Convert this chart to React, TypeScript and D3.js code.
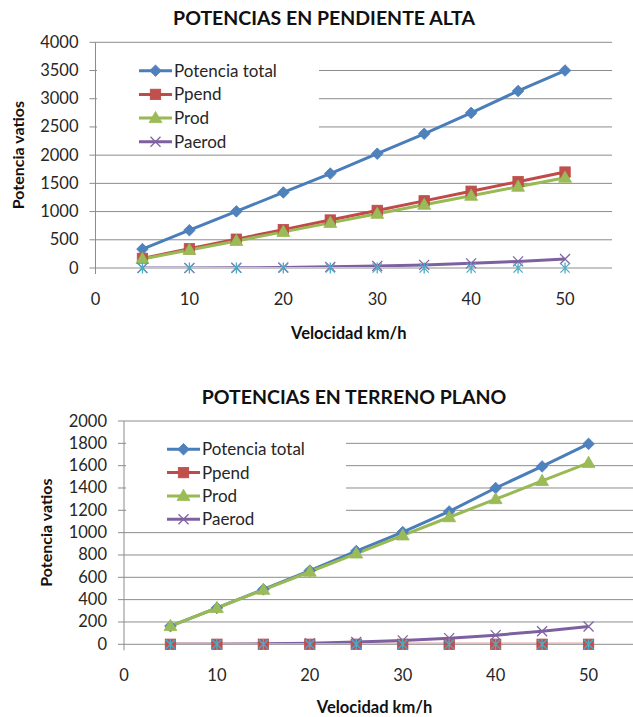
import React from "react";
import * as d3 from "d3";

// Speeds (km/h) shared by both charts
const speeds = [5, 10, 15, 20, 25, 30, 35, 40, 45, 50];

// High slope: power in watts
const altaTotal = [335, 670, 1004, 1339, 1674, 2026, 2379, 2749, 3137, 3500];
const altaPpend = [170, 340, 510, 680, 850, 1020, 1190, 1360, 1530, 1700];
const altaProd = [160, 320, 480, 640, 800, 960, 1120, 1280, 1440, 1600];
const altaPaerod = [0.2, 1.3, 4, 10, 20, 35, 55, 82, 117, 160];
const altaBase = [0, 0, 0, 0, 0, 0, 0, 0, 0, 0];

// Flat terrain: power in watts
const planoTotal = [163, 326, 492, 660, 835, 1005, 1190, 1400, 1593, 1795];
const planoPpend = [0, 0, 0, 0, 0, 0, 0, 0, 0, 0];
const planoProd = [163, 325, 488, 650, 813, 975, 1138, 1300, 1463, 1625];
const planoPaerod = [0.2, 1.3, 4, 10, 20, 35, 55, 82, 117, 160];
const planoBase = [0, 0, 0, 0, 0, 0, 0, 0, 0, 0];

const legendNames = ["Potencia total", "Ppend", "Prod", "Paerod"];
const xTicks = [0, 10, 20, 30, 40, 50];

type Kind = "diamond" | "square" | "triangle" | "x" | "star";
interface Style {
  line: string;
  fill: string;
  kind: Kind;
  showLine: boolean;
}

const styles: Style[] = [
  { line: "#4A7EBB", fill: "#4F81BD", kind: "diamond", showLine: true },
  { line: "#BE4B48", fill: "#C0504D", kind: "square", showLine: true },
  { line: "#98B954", fill: "#9BBB59", kind: "triangle", showLine: true },
  { line: "#7D60A0", fill: "#8064A2", kind: "x", showLine: true },
  { line: "#4BACC6", fill: "#4BACC6", kind: "star", showLine: false },
];

const FONT = "Lato, 'Open Sans', sans-serif";
const GRID = "#8C8C8C";
const TEXT = "#262626";

function Marker({ kind, x, y, s }: { kind: Kind; x: number; y: number; s: Style }) {
  if (kind === "diamond") {
    const r = 5.8;
    return <path d={`M${x},${y - r}L${x + r},${y}L${x},${y + r}L${x - r},${y}Z`} fill={s.fill} stroke={s.line} strokeWidth={0.8} />;
  }
  if (kind === "square") {
    const r = 5.2;
    return <rect x={x - r} y={y - r} width={2 * r} height={2 * r} fill={s.fill} stroke={s.line} strokeWidth={0.8} />;
  }
  if (kind === "triangle") {
    const p = d3.symbol().type(d3.symbolTriangle).size(72)() as string;
    return <path d={p} transform={`translate(${x},${y + 0.8})`} fill={s.fill} stroke={s.line} strokeWidth={0.8} />;
  }
  if (kind === "x") {
    const r = 5;
    return (
      <path d={`M${x - r},${y - r}L${x + r},${y + r}M${x - r},${y + r}L${x + r},${y - r}`} stroke={s.fill} strokeWidth={1.3} fill="none" />
    );
  }
  const r = 4.6;
  return (
    <path
      d={`M${x - r},${y - r}L${x + r},${y + r}M${x - r},${y + r}L${x + r},${y - r}M${x},${y - r - 1}L${x},${y + r + 1}`}
      stroke={s.fill}
      strokeWidth={1.3}
      fill="none"
    />
  );
}

interface ChartProps {
  id: string;
  title: string;
  titleX: number;
  titleY: number;
  series: number[][];
  yMax: number;
  yStep: number;
  left: number;
  right: number;
  top: number;
  bottom: number;
  yLabelX: number;
  xLabelY: number;
  legend: { x: number; y: number; w: number; h: number; lineX: number; firstY: number; gap: number };
}

function Chart(p: ChartProps) {
  const x = d3.scaleLinear().domain([0, 55]).range([p.left, p.right]);
  const y = d3.scaleLinear().domain([0, p.yMax]).range([p.bottom, p.top]);
  const yTicks = d3.range(0, p.yMax + 1, p.yStep);
  const line = d3
    .line<number>()
    .x((_, i) => x(speeds[i]))
    .y((v) => y(v));
  const clipId = `clip-${p.id}`;
  const lg = p.legend;
  return (
    <g>
      <defs>
        <clipPath id={clipId}>
          <rect x={p.left} y={p.top - 10} width={p.right - p.left} height={p.bottom - 1 - (p.top - 10)} />
        </clipPath>
      </defs>
      <text x={p.titleX} y={p.titleY} textAnchor="middle" fontFamily={FONT} fontWeight="bold" fontSize={19.5} fill="#111">
        {p.title}
      </text>
      {yTicks.map((t) => (
        <g key={t}>
          <line x1={p.left - 6} x2={p.right} y1={y(t)} y2={y(t)} stroke={GRID} strokeWidth={1} />
          <text x={p.left - 17} y={y(t) + 5.5} textAnchor="end" fontFamily={FONT} fontSize={16.5} fill={TEXT}>
            {t}
          </text>
        </g>
      ))}
      {xTicks.map((t) => (
        <text key={t} x={x(t)} y={p.bottom + 37} textAnchor="middle" fontFamily={FONT} fontSize={16.5} fill={TEXT}>
          {t}
        </text>
      ))}
      <text
        transform={`translate(${p.yLabelX},${(p.top + p.bottom) / 2}) rotate(-90)`}
        textAnchor="middle"
        fontFamily={FONT}
        fontWeight="bold"
        fontSize={16}
        fill="#111"
      >
        Potencia vatios
      </text>
      <text x={(p.left + p.right) / 2 - 5} y={p.xLabelY} textAnchor="middle" fontFamily={FONT} fontWeight="bold" fontSize={16.5} fill="#111">
        Velocidad km/h
      </text>
      <rect x={lg.x} y={lg.y} width={lg.w} height={lg.h} fill="#fff" />
      <line x1={p.left} x2={p.left} y1={p.top} y2={p.bottom + 6} stroke={GRID} strokeWidth={1} />
      <g clipPath={`url(#${clipId})`}>
        {p.series.map((vals, si) =>
          styles[si].showLine ? (
            <path key={si} d={line(vals) as string} fill="none" stroke={styles[si].line} strokeWidth={3} strokeLinejoin="round" />
          ) : null
        )}
      </g>
      {p.series.map((vals, si) => (
        <g key={si}>
          {vals.map((v, i) => (
            <Marker key={i} kind={styles[si].kind} x={x(speeds[i])} y={y(v)} s={styles[si]} />
          ))}
        </g>
      ))}
      {legendNames.map((name, i) => {
        const ly = lg.firstY + i * lg.gap;
        return (
          <g key={name}>
            <line x1={lg.lineX} x2={lg.lineX + 33} y1={ly} y2={ly} stroke={styles[i].line} strokeWidth={3} />
            <Marker kind={styles[i].kind} x={lg.lineX + 16.5} y={ly} s={styles[i]} />
            <text x={lg.lineX + 35} y={ly + 6} fontFamily={FONT} fontSize={17} fill={TEXT}>
              {name}
            </text>
          </g>
        );
      })}
    </g>
  );
}

export default function App() {
  return (
    <svg width={633} height={717} style={{ position: "absolute", left: 0, top: 0, background: "#fff" }}>
      <Chart
        id="alta"
        title="POTENCIAS EN PENDIENTE ALTA"
        titleX={324}
        titleY={25}
        series={[altaTotal, altaPpend, altaProd, altaPaerod, altaBase]}
        yMax={4000}
        yStep={500}
        left={95.5}
        right={612}
        top={42.3}
        bottom={268}
        yLabelX={24}
        xLabelY={339}
        legend={{ x: 97, y: 52, w: 222, h: 100, lineX: 139, firstY: 70.7, gap: 23.7 }}
      />
      <Chart
        id="plano"
        title="POTENCIAS EN TERRENO PLANO"
        titleX={354}
        titleY={404}
        series={[planoTotal, planoPpend, planoProd, planoPaerod, planoBase]}
        yMax={2000}
        yStep={200}
        left={124}
        right={635}
        top={421}
        bottom={644.3}
        yLabelX={52}
        xLabelY={712.5}
        legend={{ x: 126, y: 432, w: 220, h: 98, lineX: 167, firstY: 449.3, gap: 23.3 }}
      />
    </svg>
  );
}
